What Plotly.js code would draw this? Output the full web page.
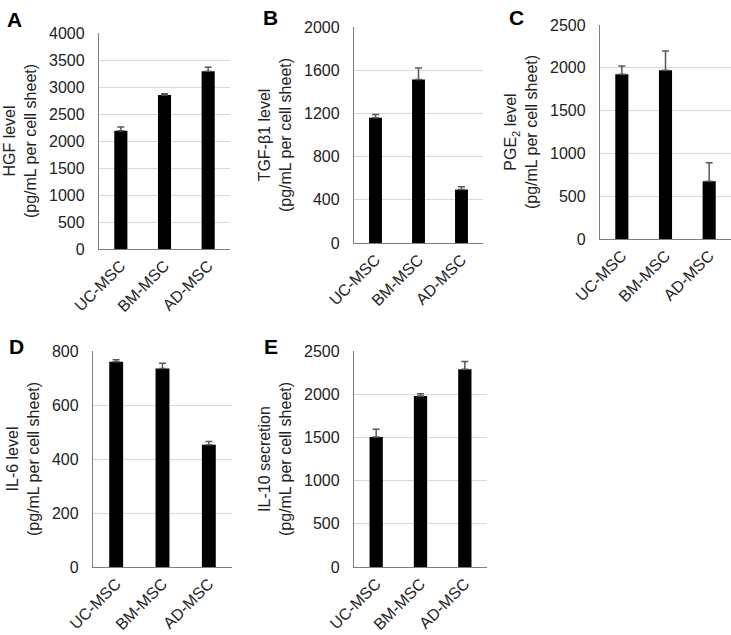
<!DOCTYPE html>
<html>
<head>
<meta charset="utf-8">
<script src="https://cdn.plot.ly/plotly-3.0.1.min.js"></script>
<style>
  html, body { margin: 0; padding: 0; background: #fff; }
  #chart { width: 731px; height: 635px; }
</style>
</head>
<body>
<div id="chart"></div>
<script>
// groups on the x axis
var cells = ['UC-MSC', 'BM-MSC', 'AD-MSC'];

// secreted factor levels (pg/mL per cell sheet), upper error bars
var hgf = [2190, 2850, 3290];
var hgfErr = [70, 25, 75];

var tgf = [1160, 1515, 495];
var tgfErr = [30, 105, 25];

var pge2 = [1925, 1970, 675];
var pge2Err = [95, 225, 215];

var il6 = [760, 735, 453];
var il6Err = [8, 20, 12];

var il10 = [1505, 1980, 2290];
var il10Err = [90, 25, 88];

var W = 731, H = 635;
var font = 'Arial, "Liberation Sans", sans-serif';

// panel boxes in pixels: left, right, top, bottom
var panels = [
    {key: '',  vals: hgf,  err: hgfErr,  box: [99, 230, 33, 249],  max: 4000, dtick: 500, title: 'HGF level<br>(pg/mL per cell sheet)', letter: 'A', lx: 5,   ly: 6},
    {key: '2', vals: tgf,  err: tgfErr,  box: [354, 483, 27, 243], max: 2000, dtick: 400, title: 'TGF-β1 level<br>(pg/mL per cell sheet)', letter: 'B', lx: 261, ly: 4},
    {key: '3', vals: pge2, err: pge2Err, box: [600, 731, 25, 239], max: 2500, dtick: 500, title: 'PGE<sub>2</sub> level<br>(pg/mL per cell sheet)', letter: 'C', lx: 507, ly: 4},
    {key: '4', vals: il6,  err: il6Err,  box: [93, 232, 351, 567], max: 800,  dtick: 200, title: 'IL-6 level<br>(pg/mL per cell sheet)', letter: 'D', lx: 7,   ly: 333},
    {key: '5', vals: il10, err: il10Err, box: [354, 487, 351, 567], max: 2500, dtick: 500, title: 'IL-10 secretion<br>(pg/mL per cell sheet)', letter: 'E', lx: 262, ly: 333}
];

var data = [];
var layout = {
    width: W,
    height: H,
    margin: {l: 0, r: 0, t: 0, b: 0},
    paper_bgcolor: '#fff',
    plot_bgcolor: '#fff',
    showlegend: false,
    font: {family: font, size: 16, color: '#222'},
    annotations: []
};

panels.forEach(function(p) {
    data.push({
        type: 'bar',
        x: cells,
        y: p.vals,
        width: 0.3,
        xaxis: 'x' + p.key,
        yaxis: 'y' + p.key,
        marker: {color: '#000'},
        error_y: {
            type: 'data',
            symmetric: false,
            array: p.err,
            arrayminus: [0, 0, 0],
            color: '#595959',
            thickness: 1.5,
            width: 3.5
        },
        hoverinfo: 'x+y'
    });

    layout['xaxis' + p.key] = {
        domain: [p.box[0] / W, p.box[1] / W],
        anchor: 'y' + p.key,
        tickangle: -45,
        tickfont: {size: 16, color: '#222'},
        showline: true,
        linecolor: '#7f7f7f',
        linewidth: 1.2,
        ticks: '',
        showgrid: false,
        fixedrange: true
    };
    layout['yaxis' + p.key] = {
        domain: [1 - p.box[3] / H, 1 - p.box[2] / H],
        anchor: 'x' + p.key,
        range: [0, p.max],
        dtick: p.dtick,
        tick0: 0,
        tickfont: {size: 16, color: '#222'},
        ticklabelstandoff: 10,
        showline: true,
        linecolor: '#7f7f7f',
        linewidth: 1.2,
        ticks: '',
        showgrid: true,
        gridcolor: '#d9d9d9',
        gridwidth: 1,
        zeroline: false,
        title: {text: p.title, font: {size: 16, color: '#222'}, standoff: 8},
        fixedrange: true
    };

    layout.annotations.push({
        text: '<b>' + p.letter + '</b>',
        xref: 'paper', yref: 'paper',
        x: p.lx / W, y: 1 - p.ly / H,
        xanchor: 'left', yanchor: 'top',
        showarrow: false,
        font: {family: font, size: 21, color: '#000'}
    });
});

Plotly.newPlot('chart', data, layout, {displayModeBar: false, staticPlot: true});
</script>
</body>
</html>
